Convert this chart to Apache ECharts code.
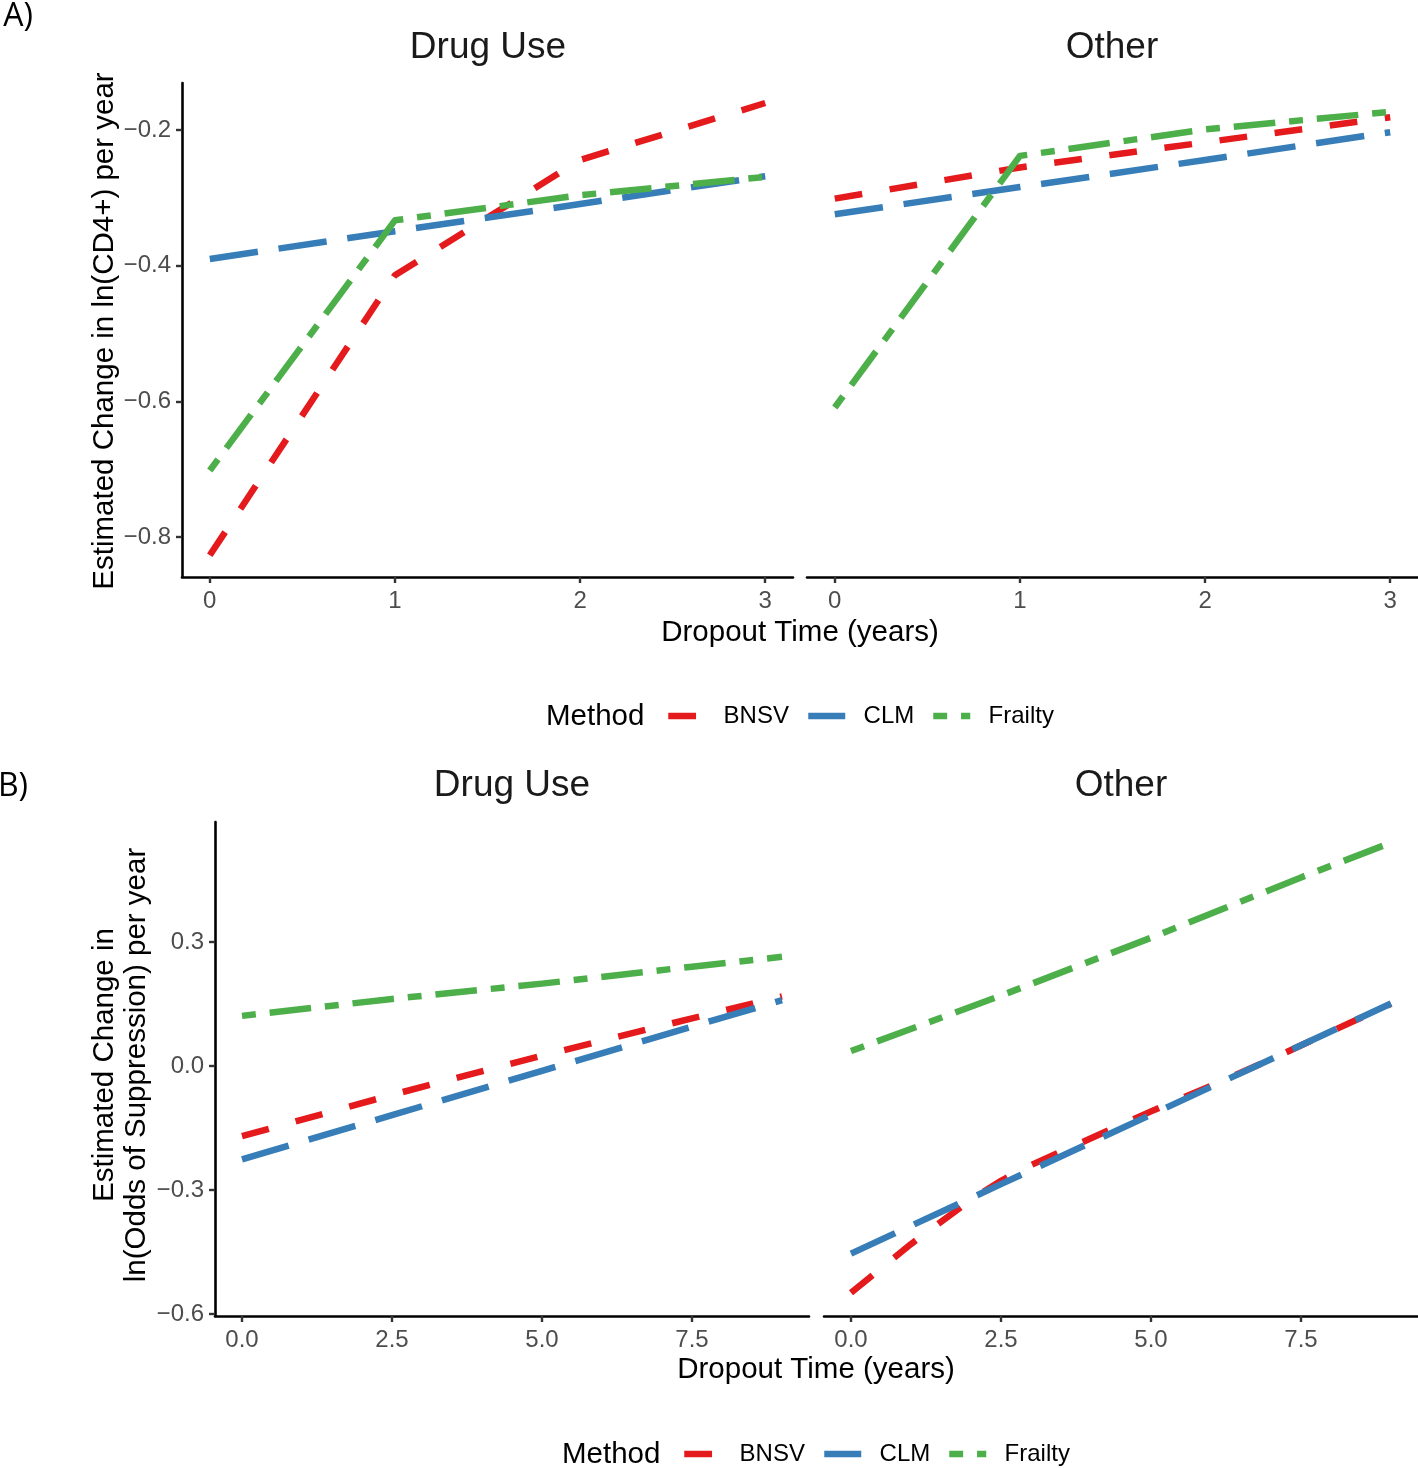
<!DOCTYPE html>
<html>
<head>
<meta charset="utf-8">
<script src="https://cdn.jsdelivr.net/npm/echarts@6/dist/echarts.min.js"></script>
<style>
  html, body { margin: 0; padding: 0; background: #fff; }
  #chart { width: 1418px; height: 1468px; }
</style>
</head>
<body>
<div id="chart"></div>
<script>
// ---------------- data ----------------
const methods = ['BNSV', 'CLM', 'Frailty'];
const facets = ['Drug Use', 'Other'];

// Panel A: ln(CD4+) change per year
const xA = [0, 1, 2, 3];
const aDrugBNSV    = [-0.827, -0.414, -0.244, -0.160];
const aDrugCLM     = [-0.390, -0.349, -0.309, -0.268];
const aDrugFrailty = [-0.702, -0.333, -0.296, -0.269];
const aOtherBNSV    = [-0.301, -0.255, -0.218, -0.181];
const aOtherCLM     = [-0.324, -0.284, -0.244, -0.203];
const aOtherFrailty = [-0.609, -0.238, -0.199, -0.173];

// Panel B: ln(Odds of Suppression) change per year
const xB = [0, 2.5, 5, 7.5, 9];
const bDrugBNSV    = [-0.170, -0.070, 0.025, 0.115, 0.168];
const bDrugCLM     = [-0.226, -0.119, -0.012, 0.095, 0.159];
const bDrugFrailty = [0.121, 0.162, 0.199, 0.240, 0.264];
const xBOtherBNSV  = [0, 1, 2, 2.5, 3, 4, 5, 6, 7, 8, 9];
const bOtherBNSV    = [-0.549, -0.431, -0.324, -0.278, -0.240, -0.175, -0.110, -0.048, 0.016, 0.083, 0.150];
const bOtherCLM     = [-0.454, -0.286, -0.118, 0.050, 0.151];
const bOtherFrailty = [0.036, 0.170, 0.310, 0.456, 0.540];

// ticks
const ticksAx = [0, 1, 2, 3];
const ticksAy = [-0.8, -0.6, -0.4, -0.2];
const ticksBx = [0, 2.5, 5, 7.5];
const ticksBy = [-0.6, -0.3, 0, 0.3];

// ---------------- styles ----------------
const FONT = '"Liberation Sans", Arial, Helvetica, sans-serif';
const colors = { BNSV: '#E41A1C', CLM: '#377EB8', Frailty: '#4DAF4A' };
const U = 6.95;
const dashes = { BNSV: [4 * U, 4 * U], CLM: [7 * U, 3 * U], Frailty: [2 * U, 2 * U, 6 * U, 2 * U] };
const LW = 6.5;

const pairs = (xs, ys) => xs.map((x, i) => [x, ys[i]]);
const minus = v => (v < 0 ? '\u2212' : '') + Math.abs(v).toFixed(1);

function xAxis(gridIndex, min, max, ticks, fmt) {
  return {
    type: 'value', gridIndex, min, max,
    axisLine: { show: true, onZero: false, lineStyle: { color: '#000', width: 2.6 } },
    axisTick: { show: true, length: 6, customValues: ticks, lineStyle: { color: '#333', width: 2.4 } },
    axisLabel: { show: true, customValues: ticks, margin: 12, formatter: fmt,
                 color: '#4D4D4D', fontSize: 24, fontFamily: FONT },
    splitLine: { show: false }
  };
}
function yAxis(gridIndex, min, max, ticks, show) {
  return {
    type: 'value', gridIndex, min, max,
    axisLine: { show: show, onZero: false, lineStyle: { color: '#000', width: 2.6 } },
    axisTick: { show: show, length: 6, customValues: ticks, lineStyle: { color: '#333', width: 2.4 } },
    axisLabel: { show: show, customValues: ticks, margin: 11, formatter: minus,
                 color: '#4D4D4D', fontSize: 24, fontFamily: FONT },
    splitLine: { show: false }
  };
}
function lineSeries(name, axisIdx, data) {
  return {
    type: 'line', name, xAxisIndex: axisIdx, yAxisIndex: axisIdx,
    data, symbol: 'none', showSymbol: false, silent: true, animation: false,
    lineStyle: { color: colors[name], width: LW, type: dashes[name], cap: 'butt', join: 'round' },
    itemStyle: { color: colors[name] }
  };
}
function legendItem(name, left, top) {
  return {
    left, top, padding: 0, itemWidth: 37, itemHeight: 24, selectedMode: false,
    data: [name], formatter: '  {name}',
    lineStyle: { width: LW },
    itemStyle: { opacity: 0, borderWidth: 0 },
    textStyle: { fontSize: 24, color: '#000', fontFamily: FONT }
  };
}

const yAmin = -0.859, yAmax = -0.1305;
const yBmin = -0.605, yBmax = 0.590;

const option = {
  backgroundColor: '#fff',
  animation: false,
  grid: [
    { left: 182, top: 83, width: 611, height: 494 },
    { left: 807, top: 83, width: 611, height: 494 },
    { left: 215, top: 822, width: 594, height: 494 },
    { left: 824, top: 822, width: 594, height: 494 }
  ],
  xAxis: [
    xAxis(0, -0.15, 3.15, ticksAx, v => String(v)),
    xAxis(1, -0.15, 3.15, ticksAx, v => String(v)),
    xAxis(2, -0.45, 9.45, ticksBx, v => v.toFixed(1)),
    xAxis(3, -0.45, 9.45, ticksBx, v => v.toFixed(1))
  ],
  yAxis: [
    yAxis(0, yAmin, yAmax, ticksAy, true),
    yAxis(1, yAmin, yAmax, ticksAy, false),
    yAxis(2, yBmin, yBmax, ticksBy, true),
    yAxis(3, yBmin, yBmax, ticksBy, false)
  ],
  legend: [
    legendItem(methods[0], 665, 704), legendItem(methods[1], 805, 704), legendItem(methods[2], 930, 704),
    legendItem(methods[0], 681, 1442), legendItem(methods[1], 821, 1442), legendItem(methods[2], 946, 1442)
  ],
  series: [
    lineSeries('BNSV', 0, pairs(xA, aDrugBNSV)),
    lineSeries('CLM', 0, pairs(xA, aDrugCLM)),
    lineSeries('Frailty', 0, pairs(xA, aDrugFrailty)),
    lineSeries('BNSV', 1, pairs(xA, aOtherBNSV)),
    lineSeries('CLM', 1, pairs(xA, aOtherCLM)),
    lineSeries('Frailty', 1, pairs(xA, aOtherFrailty)),
    lineSeries('BNSV', 2, pairs(xB, bDrugBNSV)),
    lineSeries('CLM', 2, pairs(xB, bDrugCLM)),
    lineSeries('Frailty', 2, pairs(xB, bDrugFrailty)),
    lineSeries('BNSV', 3, pairs(xBOtherBNSV, bOtherBNSV)),
    lineSeries('CLM', 3, pairs(xB, bOtherCLM)),
    lineSeries('Frailty', 3, pairs(xB, bOtherFrailty))
  ],
  graphic: [
    { type: 'text', x: 18, y: 17, style: { text: 'A)', font: '32px "Open Sans", sans-serif', fill: '#000', align: 'center', verticalAlign: 'middle' } },
    { type: 'text', x: 13, y: 787, style: { text: 'B)', font: '32px "Open Sans", sans-serif', fill: '#000', align: 'center', verticalAlign: 'middle' } },
    // facet strips
    { type: 'text', x: 488, y: 48, style: { text: facets[0], font: '37px ' + FONT, fill: '#1a1a1a', align: 'center', verticalAlign: 'middle' } },
    { type: 'text', x: 1112, y: 48, style: { text: facets[1], font: '37px ' + FONT, fill: '#1a1a1a', align: 'center', verticalAlign: 'middle' } },
    { type: 'text', x: 512, y: 786, style: { text: facets[0], font: '37px ' + FONT, fill: '#1a1a1a', align: 'center', verticalAlign: 'middle' } },
    { type: 'text', x: 1121, y: 786, style: { text: facets[1], font: '37px ' + FONT, fill: '#1a1a1a', align: 'center', verticalAlign: 'middle' } },
    // axis titles
    { type: 'text', x: 800, y: 633, style: { text: 'Dropout Time (years)', font: '29.5px ' + FONT, fill: '#000', align: 'center', verticalAlign: 'middle' } },
    { type: 'text', x: 816, y: 1370, style: { text: 'Dropout Time (years)', font: '29.5px ' + FONT, fill: '#000', align: 'center', verticalAlign: 'middle' } },
    { type: 'text', x: 105, y: 331, rotation: Math.PI / 2,
      style: { text: 'Estimated Change in ln(CD4+) per year', font: '29.5px ' + FONT, fill: '#000', align: 'center', verticalAlign: 'middle' } },
    { type: 'text', x: 121, y: 1065, rotation: Math.PI / 2,
      style: { text: 'Estimated Change in\nln(Odds of Suppression) per year', font: '29.5px ' + FONT, lineHeight: 32, fill: '#000', align: 'center', verticalAlign: 'middle' } },
    // legend titles
    { type: 'text', x: 546, y: 717, style: { text: 'Method', font: '29.5px ' + FONT, fill: '#000', align: 'left', verticalAlign: 'middle' } },
    { type: 'text', x: 562, y: 1455, style: { text: 'Method', font: '29.5px ' + FONT, fill: '#000', align: 'left', verticalAlign: 'middle' } }
  ]
};

const chart = echarts.init(document.getElementById('chart'), null, { renderer: 'canvas', width: 1418, height: 1468 });
chart.setOption(option);
</script>
</body>
</html>
